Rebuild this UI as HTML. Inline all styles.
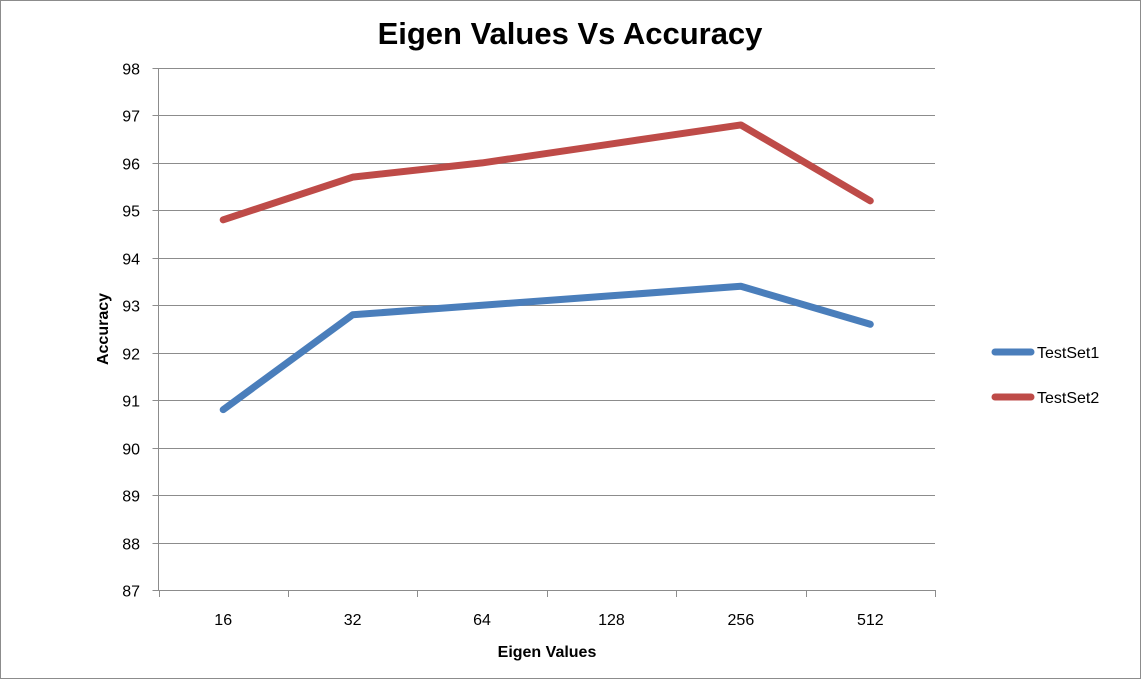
<!DOCTYPE html>
<html><head><meta charset="utf-8"><style>
body{margin:0;background:#fff;}
svg{display:block;font-family:"Liberation Sans",sans-serif;}
</style></head><body>
<svg id="c" width="1142" height="681">
<rect x="0.5" y="0.5" width="1140" height="678" fill="#fff" stroke="#8c8c8c"/>
<text x="570" y="44" text-anchor="middle" font-size="31" font-weight="bold">Eigen Values Vs Accuracy</text>
<text x="547" y="657" text-anchor="middle" font-size="16" font-weight="bold">Eigen Values</text>
<text transform="translate(108,329) rotate(-90)" text-anchor="middle" font-size="16" font-weight="bold">Accuracy</text>
<g id="grid"></g><g id="series"></g><g id="legend"></g>
</svg>
<script>
const categories=["16","32","64","128","256","512"];
const testSet1=[90.8,92.8,93.0,93.2,93.4,92.6];
const testSet2=[94.8,95.7,96.0,96.4,96.8,95.2];
const yTicks=[87,88,89,90,91,92,93,94,95,96,97,98];
const seriesNames=["TestSet1","TestSet2"];
const colors=["#4a7ebb","#be4b48"];
const NS="http://www.w3.org/2000/svg";
const L=158.5,R=935,T=68,B=590,yMin=87,yMax=98;
const bw=(R-L)/categories.length;
const xs=i=>L+bw*(i+0.5);
const ys=v=>B-(v-yMin)/(yMax-yMin)*(B-T);
function mk(tag,attrs,parent){const e=document.createElementNS(NS,tag);for(const k in attrs)e.setAttribute(k,attrs[k]);parent.appendChild(e);return e;}
const grid=document.getElementById('grid');
yTicks.forEach(v=>{
 const y=Math.round(ys(v))+0.5;
 if(v>yMin){const g=mk('line',{x1:L,x2:R,y1:y,y2:y,stroke:'#8c8c8c','stroke-width':1},grid);
 
 }
 const tk=mk('line',{x1:L-6,x2:L,y1:y,y2:y,stroke:'#8c8c8c'},grid);
 
 
 const t=mk('text',{x:140,y:y+6,'text-anchor':'end','font-size':16},grid);t.textContent=v;
 
 
});
const ya=mk('line',{x1:L,x2:L,y1:T,y2:B,stroke:'#8c8c8c'},grid);


const xa=mk('line',{x1:L,x2:R,y1:B+0.5,y2:B+0.5,stroke:'#8c8c8c'},grid);


for(let i=0;i<=categories.length;i++){
 const x=Math.round(L+bw*i)+0.5;
 const tk=mk('line',{x1:x,x2:x,y1:B,y2:B+7,stroke:'#8c8c8c'},grid);
 
 
}
categories.forEach((c,i)=>{
 const t=mk('text',{x:xs(i),y:625,'text-anchor':'middle','font-size':16},grid);t.textContent=c;
 
 
});
const ser=document.getElementById('series');
[testSet1,testSet2].forEach((d,s)=>{
 const p=mk('polyline',{points:d.map((v,i)=>xs(i)+','+ys(v)).join(' '),fill:'none',stroke:colors[s],'stroke-width':7,'stroke-linecap':'round','stroke-linejoin':'round'},ser);
 
 
});
const lg=document.getElementById('legend');
seriesNames.forEach((n,s)=>{
 const y=352+s*45;
 const l=mk('line',{x1:995,x2:1031,y1:y,y2:y,stroke:colors[s],'stroke-width':7,'stroke-linecap':'round'},lg);
 
 
 const t=mk('text',{x:1037,y:y+6,'font-size':16},lg);t.textContent=n;
 
 
});
</script>
</body></html>
